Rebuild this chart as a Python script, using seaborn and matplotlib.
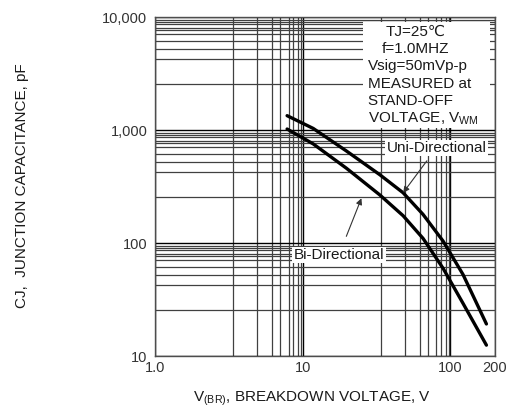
import numpy as np
import pandas as pd
import matplotlib
matplotlib.use("Agg")
import matplotlib.pyplot as plt
from matplotlib.ticker import FixedLocator, NullFormatter
from matplotlib.patches import Rectangle
import seaborn as sns

# Curve values
uni_v = [7.85, 11.8, 19.8, 33.3, 47.9, 65.3, 89.3, 121.9, 175.5]
uni_c = [1352, 1042, 658, 406, 281, 181, 105, 53.1, 19.4]
bi_v = [7.85, 11.8, 19.8, 33.3, 47.9, 65.3, 89.3, 121.9, 175.5]
bi_c = [1030, 760, 463, 269, 176, 111, 60.3, 29.5, 12.6]

x_ticks = [1, 10, 100, 200]
x_labels = ["1.0", "10", "100", "200"]
y_ticks = [10, 100, 1000, 10000]
y_labels = ["10", "100", "1,000", "10,000"]

note_lines = ["TJ=25\u2103", "f=1.0MHZ", "Vsig=50mVp-p", "MEASURED at",
              "STAND-OFF", r"VOLTAGE, V$_{\mathrm{WM}}$"]

df = pd.concat([
    pd.DataFrame({"V": uni_v, "C": uni_c, "type": "Uni-Directional"}),
    pd.DataFrame({"V": bi_v, "C": bi_c, "type": "Bi-Directional"}),
])

sns.set_style("white")
plt.rcParams["font.family"] = ["Liberation Sans", "DejaVu Sans"]
plt.rcParams["mathtext.fontset"] = "custom"
plt.rcParams["mathtext.rm"] = "Liberation Sans"

fig = plt.figure(figsize=(5.08, 4.09), dpi=100)
ax = fig.add_axes([0.305, 0.1284, 0.669, 0.8289])

sns.lineplot(data=df, x="V", y="C", hue="type", palette=["black", "black"],
             legend=False, lw=2.4, ax=ax, zorder=5)

ax.set_xscale("log")
ax.set_yscale("log")
ax.set_xlim(1, 200)
ax.set_ylim(10, 10000)

ax.xaxis.set_major_locator(FixedLocator(x_ticks))
ax.set_xticklabels(x_labels)
ax.yaxis.set_major_locator(FixedLocator(y_ticks))
ax.set_yticklabels(y_labels)

# datasheet style grid (odd spacing like the scan)
xm = [3.39, 4.9, 6.24, 7.08, 8.04, 8.6, 9.33, 9.77]
ym = [0.95, 0.91, 0.87, 0.81, 0.77, 0.71, 0.62, 0.525, 0.43, 0.26]
ax.xaxis.set_minor_locator(FixedLocator([d * m for d in (1, 10) for m in xm]))
ax.yaxis.set_minor_locator(FixedLocator([d * m for d in (100, 1000, 10000) for m in ym]))
ax.xaxis.set_minor_formatter(NullFormatter())
ax.yaxis.set_minor_formatter(NullFormatter())
ax.grid(which="major", color="black", lw=1.0)
ax.grid(which="minor", color="0.25", lw=0.9)
ax.tick_params(which="both", length=0)
ax.tick_params(axis="y", pad=5.5, labelsize=10.5, labelcolor="0.2")
ax.tick_params(axis="x", pad=3, labelsize=10.5, labelcolor="0.2")
for s in ax.spines.values():
    s.set_color("0.3")
    s.set_linewidth(1.0)

ax.set_xlabel(r"V$_{\mathrm{(BR)}}$, BREAKDOWN VOLTAGE, V", fontsize=11, color="0.1")
ax.set_ylabel("CJ,  JUNCTION CAPACITANCE, pF", fontsize=11, color="0.1")
ax.xaxis.set_label_coords(0.462, -0.096)
ax.yaxis.set_label_coords(-0.371, 0.503)

# white box holding the test conditions
ax.add_patch(Rectangle((0.612, 0.674), 0.373, 0.313, transform=ax.transAxes,
                       facecolor="white", edgecolor="none", zorder=3))
for i, line in enumerate(note_lines):
    yy = 0.958 - i * 0.0512
    if i < 2:
        ax.text(0.766, yy, line, transform=ax.transAxes, ha="center", va="center",
                fontsize=11, color="0.1", zorder=4)
    else:
        ax.text(0.626, yy, line, transform=ax.transAxes, ha="left", va="center",
                fontsize=11, color="0.1", zorder=4)

box = dict(facecolor="white", edgecolor="none", pad=1.0)
ax.annotate("Uni-Directional", xy=(47.9, 281), xytext=(80.5, 700),
            ha="center", va="center", fontsize=11, color="0.1", bbox=box, zorder=6,
            arrowprops=dict(arrowstyle="-|>", color="0.2", lw=0.8,
                            mutation_scale=9, shrinkA=4, shrinkB=0))
ax.annotate("Bi-Directional", xy=(25.0, 251), xytext=(17.6, 79),
            ha="center", va="center", fontsize=11, color="0.1", bbox=box, zorder=6,
            arrowprops=dict(arrowstyle="-|>", color="0.2", lw=0.8,
                            mutation_scale=9, shrinkA=8, shrinkB=0))

plt.savefig("out.png", dpi=100)
